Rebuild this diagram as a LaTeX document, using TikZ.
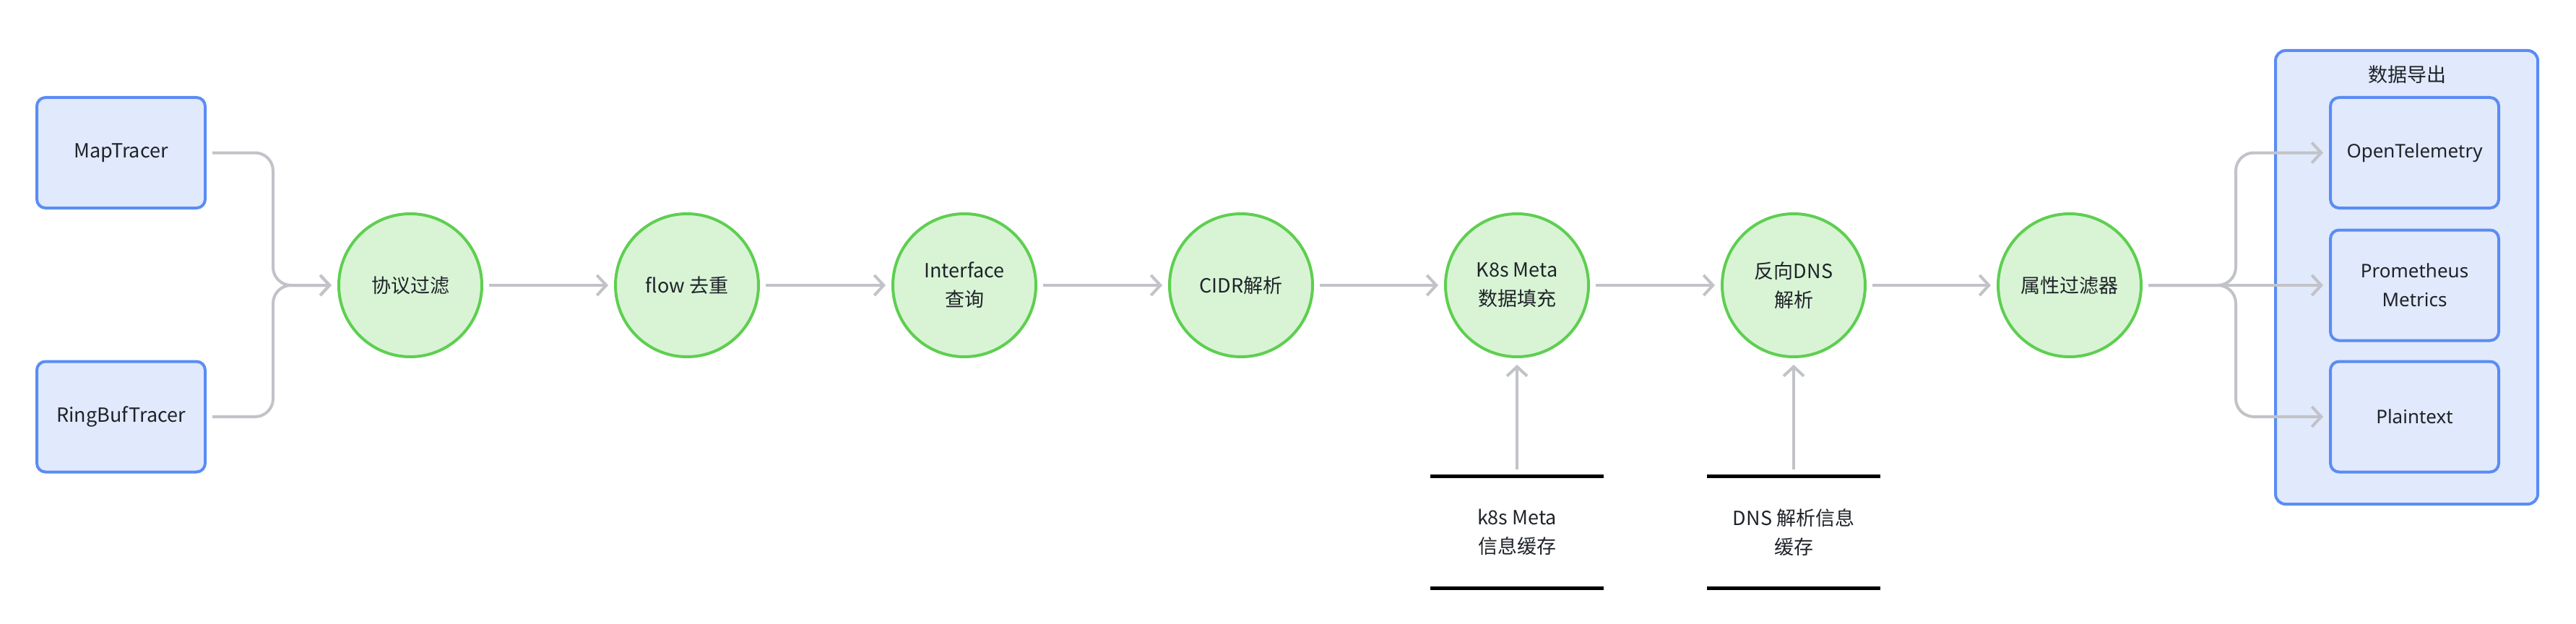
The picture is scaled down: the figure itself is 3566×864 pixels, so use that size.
\documentclass[tikz,border=0pt]{standalone}
\usepackage{fontspec}
\setmainfont{Noto Sans CJK SC}
\newfontfamily\latinout{Noto Sans}
\usetikzlibrary{arrows.meta}
\definecolor{boxfill}{HTML}{E1E9FC}
\definecolor{boxline}{HTML}{5A8CF4}
\definecolor{cfill}{HTML}{D8F4D5}
\definecolor{cline}{HTML}{5ECF50}
\definecolor{agrey}{HTML}{C1C3C8}
\definecolor{txt}{HTML}{1F2329}
\tikzset{
  srcbox/.style={rectangle, rounded corners=12pt, draw=boxline, fill=boxfill, line width=4pt, minimum width=233pt, minimum height=153pt, align=center, text=txt},
  outbox/.style={srcbox, font=\latinout\fontsize{26}{40}\selectfont},
  stage/.style={circle, draw=cline, fill=cfill, line width=4pt, minimum size=198pt, inner sep=0pt, align=center, text=txt},
  groupbox/.style={rectangle, rounded corners=14pt, draw=boxline, fill=boxfill, line width=4pt, minimum width=363pt, minimum height=628pt},
  cachebox/.style={rectangle, minimum width=240pt, minimum height=154pt, align=center, text=txt},
  cacheline/.style={draw=black, line width=5pt},
  arr/.style={draw=agrey, line width=4pt, -{Straight Barb[length=13pt,width=28pt]}, shorten <=8pt, shorten >=8pt},
}
\begin{document}
\begin{tikzpicture}[x=1pt, y=-1pt, font=\fontsize{27}{40}\selectfont]
\useasboundingbox[fill=white] (0,0) rectangle (3566,864);
% export group
\node[groupbox] (exp) at (3331.5,384) {};
\node[text=txt] (exptitle) at (3332,103) {数据导出};
% sources
\node[srcbox] (map) at (167.5,211.5) {MapTracer};
\node[srcbox] (ring) at (167.5,577) {RingBufTracer};
% stages
\node[stage] (c1) at (568,395) {协议过滤};
\node[stage] (c2) at (951,395) {flow 去重};
\node[stage] (c3) at (1335,395) {Interface\\查询};
\node[stage] (c4) at (1718,395) {CIDR解析};
\node[stage] (c5) at (2100,395) {K8s Meta\\数据填充};
\node[stage] (c6) at (2483,395) {反向DNS\\解析};
\node[stage] (c7) at (2865,395) {属性过滤器};
% outputs
\node[outbox] (ot) at (3342.5,211.5) {OpenTelemetry};
\node[outbox] (prom) at (3342.5,395) {Prometheus\\Metrics};
\node[outbox] (plain) at (3342.5,577) {Plaintext};
% caches
\node[cachebox] (k8sc) at (2100,737) {k8s Meta\\信息缓存};
\node[cachebox] (dnsc) at (2483,737) {DNS 解析信息\\缓存};
\draw[cacheline] (k8sc.north west) -- (k8sc.north east);
\draw[cacheline] (k8sc.south west) -- (k8sc.south east);
\draw[cacheline] (dnsc.north west) -- (dnsc.north east);
\draw[cacheline] (dnsc.south west) -- (dnsc.south east);
% connectors
\coordinate (jl) at (378,395);
\coordinate (jr) at (3095,395);
\draw[arr, rounded corners=25pt] (map.east) -- (jl |- map.east) -- (jl) -- (c1.west);
\draw[arr, rounded corners=25pt] (ring.east) -- (jl |- ring.east) -- (jl) -- (c1.west);
\draw[arr] (c1) -- (c2);
\draw[arr] (c2) -- (c3);
\draw[arr] (c3) -- (c4);
\draw[arr] (c4) -- (c5);
\draw[arr] (c5) -- (c6);
\draw[arr] (c6) -- (c7);
\draw[arr, shorten <=10pt, shorten >=9pt] (k8sc.north) -- (c5.south);
\draw[arr, shorten <=10pt, shorten >=9pt] (dnsc.north) -- (c6.south);
\draw[arr, rounded corners=25pt] (c7.east) -- (jr) -- (jr |- ot.west) -- (ot.west);
\draw[arr] (c7.east) -- (prom.west);
\draw[arr, rounded corners=25pt] (c7.east) -- (jr) -- (jr |- plain.west) -- (plain.west);
\end{tikzpicture}
\end{document}
